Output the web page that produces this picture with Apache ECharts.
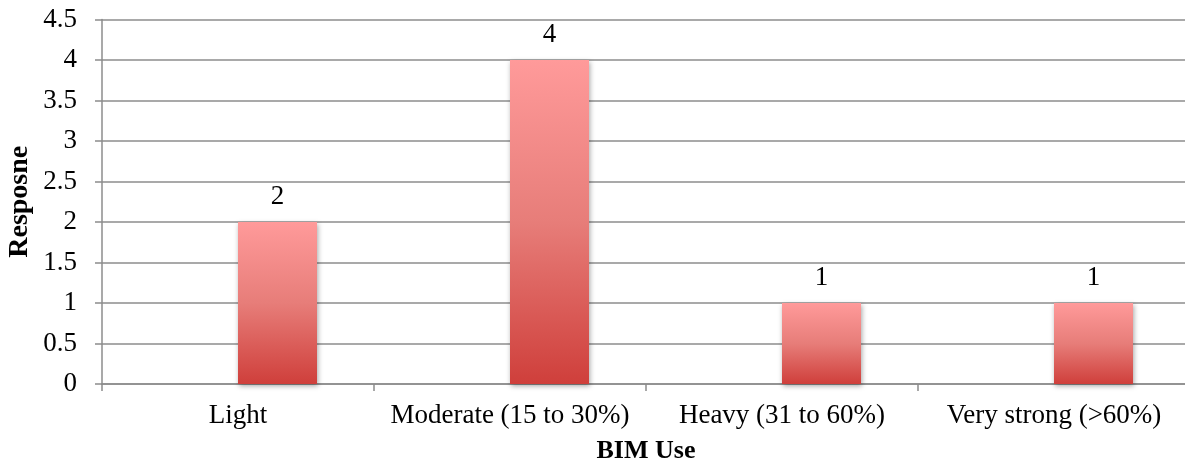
<!DOCTYPE html>
<html>
<head>
<meta charset="utf-8">
<script src="https://cdn.jsdelivr.net/npm/echarts@6/dist/echarts.min.js"></script>
<style>
  html, body { margin: 0; padding: 0; background: #fff; }
  #chart { width: 1185px; height: 470px; }
</style>
</head>
<body>
<div id="chart"></div>
<script>
// BIM use categories and number of responses per category
const categories = ['Light', 'Moderate (15 to 30%)', 'Heavy (31 to 60%)', 'Very strong (>60%)'];
const responses = [2, 4, 1, 1];
// empty leading slot of the cluster (no data in this series)
const emptySlot = [null, null, null, null];
const yTicks = { min: 0, max: 4.5, interval: 0.5 };

const FONT = '"Liberation Serif", serif';
const GRID_COLOR = '#8c8c8c';

const chart = echarts.init(document.getElementById('chart'));
chart.setOption({
  animation: false,
  grid: { left: 102, right: -5, top: 19.5, bottom: 86, containLabel: false, outerBoundsMode: 'none' },
  xAxis: {
    type: 'category',
    data: categories,
    name: 'BIM Use',
    nameLocation: 'middle',
    nameGap: 54,
    nameTextStyle: { fontFamily: FONT, fontWeight: 'bold', fontSize: 26, color: '#000' },
    axisLine: { lineStyle: { color: GRID_COLOR, width: 1.5 } },
    axisTick: { show: true, length: 7, alignWithLabel: false, lineStyle: { color: GRID_COLOR, width: 1.5 } },
    axisLabel: { fontFamily: FONT, fontSize: 27, color: '#000', margin: 18, interval: 0 }
  },
  yAxis: {
    type: 'value',
    min: yTicks.min,
    max: yTicks.max,
    interval: yTicks.interval,
    name: 'Resposne',
    nameLocation: 'middle',
    nameGap: 68,
    nameMoveOverlap: false,
    nameRotate: 90,
    nameTextStyle: { fontFamily: FONT, fontWeight: 'bold', fontSize: 28, color: '#000' },
    axisLine: { show: true, lineStyle: { color: GRID_COLOR, width: 1.5 } },
    axisTick: { show: true, length: 7, lineStyle: { color: GRID_COLOR, width: 1.5 } },
    axisLabel: { fontFamily: FONT, fontSize: 27, color: '#000', margin: 25 },
    splitLine: { show: true, lineStyle: { color: GRID_COLOR, width: 1.5 } }
  },
  series: [
    {
      type: 'bar',
      data: emptySlot,
      barWidth: 79,
      barGap: '0%'
    },
    {
      type: 'bar',
      data: responses,
      barWidth: 79,
      barGap: '0%',
      itemStyle: {
        color: new echarts.graphic.LinearGradient(0, 0, 0, 1, [
          { offset: 0, color: '#ff9a9a' },
          { offset: 0.5, color: '#e77d79' },
          { offset: 1, color: '#cf3f3b' }
        ]),
        shadowBlur: 5,
        shadowColor: 'rgba(0,0,0,0.35)',
        shadowOffsetX: 1,
        shadowOffsetY: 2
      },
      label: {
        show: true,
        position: 'top',
        distance: 12,
        fontFamily: FONT,
        fontSize: 27,
        color: '#000'
      }
    }
  ]
});
</script>
</body>
</html>
